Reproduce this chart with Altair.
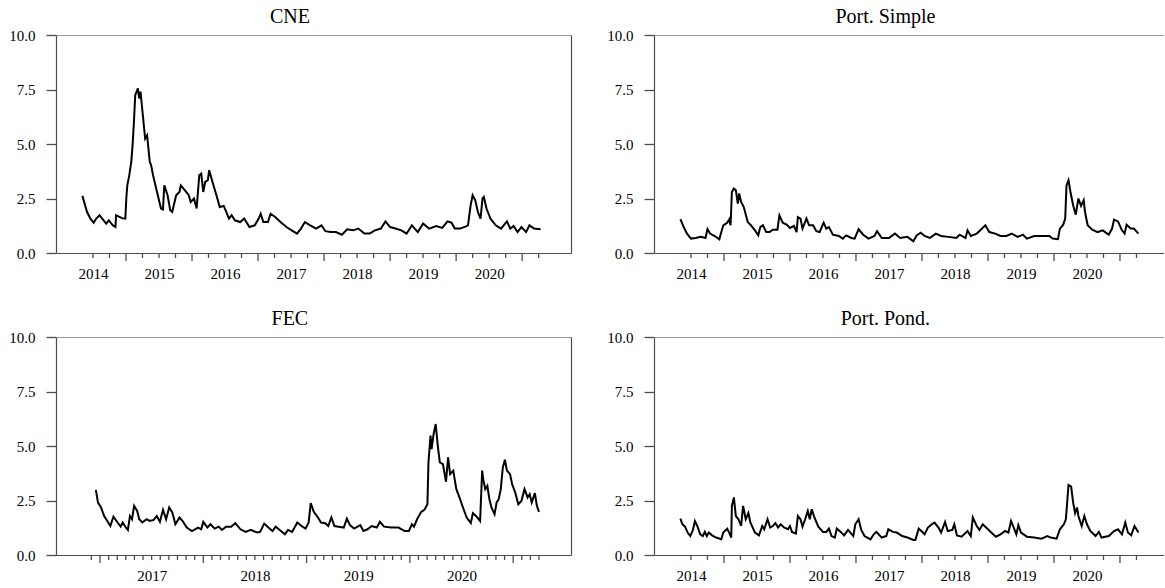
import altair as alt
import pandas as pd

# ---------------- data (decimal years, values) ----------------
cne_t = [2014.34, 2014.41, 2014.46, 2014.51, 2014.55, 2014.60, 2014.64, 2014.70, 2014.74, 2014.80,
         2014.84, 2014.85, 2014.94, 2014.99, 2015.005, 2015.01, 2015.02, 2015.05, 2015.08, 2015.10,
         2015.12, 2015.14, 2015.18, 2015.20, 2015.22, 2015.25, 2015.29, 2015.32, 2015.36, 2015.38,
         2015.41, 2015.47, 2015.53, 2015.56, 2015.58, 2015.63, 2015.67, 2015.70, 2015.76, 2015.81,
         2015.83, 2015.89, 2015.95, 2015.98, 2016.03, 2016.07, 2016.11, 2016.14, 2016.17, 2016.20,
         2016.24, 2016.26, 2016.31, 2016.37, 2016.42, 2016.48, 2016.52, 2016.56, 2016.60, 2016.65,
         2016.73, 2016.79, 2016.87, 2016.95, 2017.01, 2017.04, 2017.08, 2017.15, 2017.19, 2017.26,
         2017.34, 2017.43, 2017.51, 2017.59, 2017.65, 2017.71, 2017.79, 2017.88, 2017.96, 2018.02,
         2018.10, 2018.18, 2018.27, 2018.35, 2018.44, 2018.52, 2018.61, 2018.69, 2018.77, 2018.86,
         2018.93, 2019.00, 2019.08, 2019.17, 2019.25, 2019.33, 2019.42, 2019.50, 2019.59, 2019.70,
         2019.79, 2019.87, 2019.93, 2019.98, 2020.06, 2020.15, 2020.18, 2020.22, 2020.25, 2020.29,
         2020.33, 2020.37, 2020.40, 2020.42, 2020.46, 2020.52, 2020.60, 2020.68, 2020.77, 2020.82,
         2020.87, 2020.93, 2020.99, 2021.06, 2021.11, 2021.18, 2021.28]
cne_v = [2.62, 1.88, 1.58, 1.39, 1.58, 1.73, 1.58, 1.35, 1.50, 1.27,
         1.19, 1.73, 1.60, 1.58, 2.50, 2.73, 3.10, 3.57, 4.18, 4.95,
         6.00, 7.24, 7.55, 7.09, 7.40, 6.48, 5.25, 5.40, 4.18, 4.03,
         3.57, 2.80, 2.04, 2.00, 3.10, 2.65, 1.96, 1.88, 2.65, 2.80,
         3.10, 2.88, 2.65, 2.34, 2.50, 2.04, 3.57, 3.64, 2.80, 3.26,
         3.34, 3.80, 3.26, 2.65, 2.11, 2.16, 1.88, 1.58, 1.73, 1.50,
         1.42, 1.58, 1.19, 1.27, 1.58, 1.80, 1.42, 1.42, 1.80, 1.65,
         1.42, 1.19, 1.04, 0.89, 1.12, 1.42, 1.27, 1.12, 1.27, 1.00,
         0.96, 0.96, 0.84, 1.09, 1.04, 1.12, 0.89, 0.89, 1.04, 1.12,
         1.45, 1.19, 1.12, 1.04, 0.89, 1.27, 0.96, 1.35, 1.12, 1.24,
         1.15, 1.45, 1.39, 1.12, 1.12, 1.22, 1.27, 2.19, 2.65, 2.42,
         1.88, 1.58, 2.50, 2.57, 2.04, 1.58, 1.27, 1.12, 1.45, 1.12,
         1.24, 0.96, 1.19, 0.96, 1.27, 1.12, 1.09]

ps_t = [2014.34, 2014.39, 2014.44, 2014.50, 2014.57, 2014.65, 2014.72, 2014.75, 2014.79, 2014.86,
        2014.93, 2014.96, 2014.99, 2015.05, 2015.08, 2015.10, 2015.12, 2015.15, 2015.18, 2015.21,
        2015.23, 2015.26, 2015.30, 2015.36, 2015.41, 2015.47, 2015.52, 2015.55, 2015.59, 2015.64,
        2015.69, 2015.74, 2015.81, 2015.84, 2015.89, 2015.95, 2016.00, 2016.06, 2016.10, 2016.12,
        2016.16, 2016.19, 2016.25, 2016.29, 2016.35, 2016.40, 2016.45, 2016.51, 2016.55, 2016.59,
        2016.65, 2016.74, 2016.80, 2016.85, 2016.93, 2016.98, 2017.04, 2017.11, 2017.19, 2017.28,
        2017.32, 2017.39, 2017.50, 2017.59, 2017.67, 2017.78, 2017.87, 2017.92, 2017.98, 2018.04,
        2018.12, 2018.21, 2018.29, 2018.40, 2018.52, 2018.57, 2018.66, 2018.69, 2018.74, 2018.83,
        2018.91, 2018.96, 2019.02, 2019.11, 2019.19, 2019.28, 2019.36, 2019.45, 2019.53, 2019.59,
        2019.70, 2019.81, 2019.93, 2019.98, 2020.06, 2020.09, 2020.14, 2020.17, 2020.19, 2020.22,
        2020.25, 2020.29, 2020.33, 2020.37, 2020.41, 2020.45, 2020.47, 2020.51, 2020.58, 2020.66,
        2020.74, 2020.83, 2020.88, 2020.91, 2020.97, 2021.03, 2021.07, 2021.10, 2021.16, 2021.21,
        2021.28]
ps_v = [1.55, 1.19, 0.89, 0.66, 0.69, 0.74, 0.69, 1.09, 0.89, 0.78,
        0.63, 0.96, 1.27, 1.39, 1.55, 1.27, 2.80, 2.96, 2.88, 2.27,
        2.73, 2.34, 2.11, 1.42, 1.27, 1.04, 0.81, 1.19, 1.27, 0.96,
        0.96, 1.07, 1.07, 1.73, 1.39, 1.30, 1.15, 1.24, 0.96, 1.65,
        1.58, 1.12, 1.58, 1.27, 1.27, 1.00, 0.96, 1.39, 1.12, 1.19,
        0.84, 0.78, 0.66, 0.81, 0.69, 0.66, 1.09, 0.84, 0.66, 0.78,
        1.00, 0.69, 0.69, 0.89, 0.69, 0.74, 0.54, 0.81, 0.93, 0.78,
        0.69, 0.89, 0.78, 0.74, 0.69, 0.84, 0.69, 1.04, 0.78, 0.89,
        1.12, 1.27, 0.96, 0.89, 0.78, 0.78, 0.89, 0.74, 0.84, 0.66,
        0.78, 0.78, 0.78, 0.66, 0.63, 1.12, 1.30, 1.58, 3.10, 3.34,
        2.80, 2.19, 1.76, 2.50, 2.16, 2.42, 1.88, 1.27, 1.07, 0.96,
        1.04, 0.84, 1.12, 1.53, 1.45, 1.04, 0.89, 1.30, 1.12, 1.12,
        0.89]

fec_t = [2016.96, 2016.98, 2017.01, 2017.04, 2017.06, 2017.10, 2017.13, 2017.16, 2017.20, 2017.22,
         2017.25, 2017.27, 2017.29, 2017.31, 2017.33, 2017.36, 2017.38, 2017.41, 2017.45, 2017.48,
         2017.52, 2017.55, 2017.58, 2017.61, 2017.64, 2017.67, 2017.70, 2017.73, 2017.77, 2017.80,
         2017.84, 2017.89, 2017.95, 2017.98, 2018.00, 2018.04, 2018.07, 2018.11, 2018.15, 2018.18,
         2018.22, 2018.27, 2018.31, 2018.36, 2018.41, 2018.46, 2018.52, 2018.55, 2018.59, 2018.63,
         2018.67, 2018.70, 2018.74, 2018.79, 2018.82, 2018.86, 2018.91, 2018.96, 2018.99, 2019.02,
         2019.04, 2019.07, 2019.11, 2019.14, 2019.18, 2019.21, 2019.24, 2019.27, 2019.31, 2019.36,
         2019.39, 2019.42, 2019.46, 2019.52, 2019.55, 2019.59, 2019.63, 2019.68, 2019.71, 2019.75,
         2019.82, 2019.89, 2019.95, 2019.99, 2020.02, 2020.04, 2020.07, 2020.11, 2020.14, 2020.17,
         2020.18, 2020.20, 2020.21, 2020.23, 2020.25, 2020.27, 2020.29, 2020.32, 2020.35, 2020.37,
         2020.39, 2020.42, 2020.45, 2020.48, 2020.52, 2020.55, 2020.59, 2020.61, 2020.64, 2020.68,
         2020.70, 2020.71, 2020.73, 2020.75, 2020.77, 2020.79, 2020.82, 2020.84, 2020.86, 2020.88,
         2020.90, 2020.92, 2020.94, 2020.97, 2020.99, 2021.02, 2021.05, 2021.08, 2021.11, 2021.14,
         2021.16, 2021.18, 2021.21, 2021.23, 2021.25]
fec_v = [2.99, 2.41, 2.18, 1.79, 1.64, 1.33, 1.76, 1.56, 1.30, 1.49,
         1.26, 1.15, 1.79, 1.64, 2.25, 2.02, 1.64, 1.49, 1.64, 1.56,
         1.61, 1.79, 1.52, 2.07, 1.64, 2.18, 1.95, 1.41, 1.72, 1.56,
         1.26, 1.10, 1.26, 1.18, 1.52, 1.26, 1.41, 1.21, 1.30, 1.15,
         1.30, 1.30, 1.46, 1.18, 1.06, 1.15, 1.03, 1.06, 1.44, 1.26,
         1.10, 1.30, 1.15, 0.95, 1.15, 1.06, 1.49, 1.30, 1.21, 1.49,
         2.38, 1.98, 1.72, 1.49, 1.46, 1.33, 1.72, 1.33, 1.30, 1.26,
         1.67, 1.37, 1.21, 1.37, 1.10, 1.18, 1.33, 1.26, 1.52, 1.30,
         1.26, 1.26, 1.10, 1.10, 1.41, 1.30, 1.64, 1.98, 2.07, 2.33,
         4.25, 5.48, 4.86, 5.55, 6.01, 5.02, 4.25, 4.17, 3.36, 4.48,
         3.71, 3.87, 3.02, 2.64, 2.10, 1.72, 1.46, 1.92, 1.79, 1.56,
         3.87, 3.48, 3.02, 3.17, 2.56, 2.18, 1.87, 2.41, 2.56, 3.02,
         4.02, 4.37, 3.87, 3.71, 3.25, 2.87, 2.33, 2.48, 3.02, 2.64,
         2.79, 2.41, 2.84, 2.25, 1.98]

pp_t = [2014.34, 2014.37, 2014.41, 2014.45, 2014.49, 2014.53, 2014.56, 2014.60, 2014.64, 2014.68,
        2014.71, 2014.74, 2014.77, 2014.82, 2014.88, 2014.96, 2014.99, 2015.05, 2015.09, 2015.11,
        2015.12, 2015.15, 2015.18, 2015.22, 2015.26, 2015.29, 2015.33, 2015.37, 2015.40, 2015.47,
        2015.53, 2015.58, 2015.61, 2015.66, 2015.70, 2015.74, 2015.78, 2015.82, 2015.86, 2015.91,
        2015.97, 2016.00, 2016.03, 2016.09, 2016.12, 2016.16, 2016.19, 2016.23, 2016.27, 2016.30,
        2016.33, 2016.37, 2016.43, 2016.50, 2016.55, 2016.59, 2016.63, 2016.68, 2016.71, 2016.77,
        2016.82, 2016.88, 2016.96, 2016.99, 2017.04, 2017.08, 2017.13, 2017.22, 2017.27, 2017.31,
        2017.39, 2017.46, 2017.49, 2017.56, 2017.62, 2017.70, 2017.78, 2017.87, 2017.90, 2017.95,
        2017.99, 2018.04, 2018.09, 2018.15, 2018.19, 2018.25, 2018.29, 2018.35, 2018.39, 2018.46,
        2018.49, 2018.53, 2018.60, 2018.69, 2018.74, 2018.77, 2018.83, 2018.87, 2018.92, 2019.00,
        2019.05, 2019.12, 2019.19, 2019.26, 2019.31, 2019.35, 2019.39, 2019.43, 2019.46, 2019.50,
        2019.59, 2019.70, 2019.81, 2019.90, 2019.95, 2020.04, 2020.09, 2020.15, 2020.18, 2020.20,
        2020.22, 2020.26, 2020.29, 2020.32, 2020.35, 2020.37, 2020.42, 2020.46, 2020.50, 2020.55,
        2020.63, 2020.68, 2020.72, 2020.83, 2020.91, 2020.97, 2021.03, 2021.08, 2021.12, 2021.17,
        2021.22, 2021.28]
pp_v = [1.67, 1.41, 1.30, 1.03, 0.87, 1.15, 1.56, 1.30, 0.95, 0.87,
        1.06, 0.87, 1.03, 0.90, 0.80, 0.72, 1.03, 1.21, 0.95, 0.80,
        2.25, 2.64, 1.79, 1.64, 1.33, 2.25, 1.64, 1.92, 1.49, 1.03,
        0.90, 1.33, 1.18, 1.64, 1.26, 1.33, 1.46, 1.26, 1.41, 1.26,
        1.18, 1.33, 1.06, 0.98, 1.79, 1.64, 1.30, 1.64, 2.02, 1.64,
        2.10, 1.72, 1.30, 1.06, 1.06, 1.21, 0.87, 0.80, 1.21, 1.06,
        0.90, 1.15, 0.87, 1.41, 1.64, 1.15, 0.87, 0.72, 0.95, 1.06,
        0.80, 0.87, 1.18, 1.06, 1.03, 0.87, 0.80, 0.69, 0.69, 1.21,
        1.10, 0.95, 1.26, 1.41, 1.49, 1.26, 1.03, 1.52, 1.10, 1.15,
        1.41, 0.90, 0.84, 1.10, 0.87, 1.72, 1.33, 1.15, 1.41, 1.18,
        1.03, 0.84, 0.95, 1.10, 1.03, 1.56, 1.26, 0.95, 1.37, 1.03,
        0.84, 0.80, 0.75, 0.87, 0.80, 0.75, 1.18, 1.41, 1.64, 2.41,
        3.21, 3.14, 2.41, 1.92, 2.18, 1.79, 1.33, 1.79, 1.41, 1.10,
        0.87, 1.06, 0.80, 0.87, 1.10, 1.18, 0.95, 1.49, 1.03, 0.90,
        1.33, 1.03]

# axis tick positions (decimal years) and labels
year_labels_top = [2014, 2015, 2016, 2017, 2018, 2019, 2020]
year_labels_fec = [2017, 2018, 2019, 2020]
y_ticks = [0, 2.5, 5, 7.5, 10]

minor_top = [2014.5, 2014.75, 2015.25, 2015.5, 2015.75, 2016.25, 2016.5, 2016.75,
             2017.25, 2017.5, 2017.75, 2018.25, 2018.5, 2018.75, 2019.25, 2019.5, 2019.75,
             2020.25, 2020.5, 2020.75, 2021.25]
major_top = [2015.0, 2016.0, 2017.0, 2018.0, 2019.0, 2020.0, 2021.0]
label_top = [y + 0.5 for y in year_labels_top]

m_minor_fec = [y + m / 12 for y in range(2016, 2022) for m in range(1, 12)]
m_minor_fec = [round(v, 4) for v in m_minor_fec if 2016.9 <= v <= 2021.26]
major_fec = [2017.0, 2018.0, 2019.0, 2020.0, 2021.0]
label_fec = [y + 0.5 for y in year_labels_fec]

FONT = "Liberation Serif"
AX_COL = "#4d4d4d"
TOP_COL = "#9a9a9a"
PH = 218


def panel(t, v, title, xdom, width, minor, major, labels, right_border=True):
    df = pd.DataFrame({"t": t, "v": v})
    base = alt.Chart(df)
    xs = alt.Scale(domain=xdom, nice=False, zero=False)
    ys = alt.Scale(domain=[0, 10], nice=False, zero=True)

    def X(axis):
        return alt.X("t:Q", scale=xs, axis=axis)

    def Y(axis):
        return alt.Y("v:Q", scale=ys, axis=axis)

    common = dict(title=None, grid=False, labelFont=FONT, labelFontSize=15, labelColor="black",
                  domainWidth=1.2, tickWidth=1.3)

    line = base.mark_line(color="black", strokeWidth=2).encode(
        x=X(alt.Axis(orient="bottom", values=labels, labelExpr="floor(datum.value) + ''",
                     ticks=False, labelPadding=13, labelOverlap=False,
                     labelFlush=False, domainColor=AX_COL, **common)),
        y=Y(alt.Axis(orient="left", values=y_ticks, format=".1f", tickSize=10,
                     labelPadding=11, labelOverlap=False, domainColor=AX_COL,
                     tickColor=AX_COL, **common)),
    )
    # tick marks of the time axis, drawn through the shared x scale
    minor_l = alt.Chart(pd.DataFrame({"t": minor})).mark_rule(
        color=AX_COL, strokeWidth=1.3).encode(
        x=X(None), y=alt.value(PH), y2=alt.value(PH + 5))
    major_l = alt.Chart(pd.DataFrame({"t": major})).mark_rule(
        color=AX_COL, strokeWidth=1.3).encode(
        x=X(None), y=alt.value(PH), y2=alt.value(PH + 8))

    yb = (alt.Axis(orient="right", labels=False, ticks=False, domainColor=AX_COL, **common)
          if right_border else None)
    border = base.mark_line(opacity=0).encode(
        x=X(alt.Axis(orient="top", labels=False, ticks=False, domainColor=TOP_COL, **common)),
        y=Y(yb),
    )
    return (
        alt.layer(line, minor_l, major_l, border)
        .resolve_axis(x="independent", y="independent")
        .properties(
            width=width,
            height=PH,
            title=alt.TitleParams(title, anchor="middle", frame="bounds", font=FONT,
                                  fontSize=20, fontWeight="normal", color="black", offset=1),
        )
    )


p1 = panel(cne_t, cne_v, "CNE", [2013.94, 2021.74], 515, minor_top, major_top, label_top)
p2 = panel(ps_t, ps_v, "Port. Simple", [2013.94, 2021.667], 510, minor_top, major_top,
           label_top, right_border=False)
p3 = panel(fec_t, fec_v, "FEC", [2016.574, 2021.56], 515, m_minor_fec, major_fec, label_fec)
p4 = panel(pp_t, pp_v, "Port. Pond.", [2013.94, 2021.667], 510, minor_top, major_top,
           label_top, right_border=False)

chart = (
    alt.vconcat(
        alt.hconcat(p1, p2, spacing=35),
        alt.hconcat(p3, p4, spacing=35),
        spacing=28,
    )
    .properties(padding={"left": 8, "top": 7, "right": 0, "bottom": 0}, background="white")
    .configure_view(stroke=None)
)

chart.save("out.html", embed_options={"renderer": "svg", "actions": False})
